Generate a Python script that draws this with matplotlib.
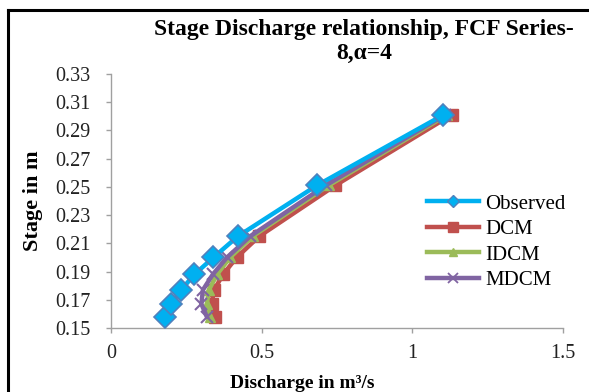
import matplotlib
matplotlib.use("Agg")
import matplotlib.pyplot as plt
from matplotlib.lines import Line2D

stage = [0.158, 0.167, 0.177, 0.188, 0.200, 0.215, 0.251, 0.301]
observed = [0.179, 0.199, 0.233, 0.277, 0.340, 0.421, 0.683, 1.103]
dcm = [0.345, 0.334, 0.342, 0.372, 0.417, 0.492, 0.744, 1.130]
idcm = [0.330, 0.318, 0.325, 0.352, 0.395, 0.470, 0.722, 1.115]
mdcm = [0.318, 0.300, 0.305, 0.338, 0.385, 0.462, 0.712, 1.108]

xticks = [0, 0.5, 1, 1.5]
yticks = [0.15, 0.17, 0.19, 0.21, 0.23, 0.25, 0.27, 0.29, 0.31, 0.33]

serif = ["Liberation Serif", "DejaVu Serif"]
plt.rcParams['font.family'] = serif

fig = plt.figure(figsize=(5.89, 3.92), dpi=100)
ax = fig.add_axes([111/589, 1-328/392, (563-111)/589, (328-74)/392])

ax.plot(observed, stage, color='#00B0F0', lw=3.2, marker='D', ms=11,
        mfc='#00B0F0', mec='#4F81BD', mew=1.2, zorder=4, label='Observed')
ax.plot(dcm, stage, color='#C0504D', lw=3.2, marker='s', ms=8,
        mfc='#C0504D', mec='#C0504D', zorder=2, label='DCM')
ax.plot(idcm, stage, color='#9BBB59', lw=3.2, marker='^', ms=7,
        mfc='#9BBB59', mec='#9BBB59', zorder=3, label='IDCM')
ax.plot(mdcm, stage, color='#8064A2', lw=3.2, marker='x', ms=8, mew=1.5,
        mec='#8064A2', zorder=3, label='MDCM')

ax.set_xlim(0, 1.5)
ax.set_ylim(0.15, 0.33)
ax.set_xticks(xticks)
ax.set_xticklabels(['0', '0.5', '1', '1.5'])
ax.set_yticks(yticks)
ax.set_yticklabels([f"{v:.2f}" for v in yticks])
for s in ['top', 'right']:
    ax.spines[s].set_visible(False)
for s in ['left', 'bottom']:
    ax.spines[s].set_color('#A0A0A0')
    ax.spines[s].set_linewidth(1.0)
ax.tick_params(axis='both', colors='#A0A0A0', labelcolor='#222222',
               labelsize=14.5, length=3.5, width=1.0, direction='out')
ax.tick_params(axis='x', pad=8)
ax.tick_params(axis='y', pad=11)

handles = [
    Line2D([], [], color='#00B0F0', lw=3.2, marker='D', ms=6, mfc='#00B0F0', mec='#4F81BD'),
    Line2D([], [], color='#C0504D', lw=3.2, marker='s', ms=7, mfc='#C0504D', mec='#C0504D'),
    Line2D([], [], color='#9BBB59', lw=3.2, marker='^', ms=6, mfc='#9BBB59', mec='#9BBB59'),
    Line2D([], [], color='#8064A2', lw=3.2, marker='x', ms=7, mew=1.3, mec='#8064A2'),
]
leg = fig.legend(handles, ['Observed', 'DCM', 'IDCM', 'MDCM'],
                 loc='center left', bbox_to_anchor=(427/589, 1-242/392),
                 frameon=False, fontsize=15, handlelength=2.5,
                 handletextpad=0.3, labelspacing=0.28, borderaxespad=0,
                 borderpad=0)

fig.text(364/589, 1-30/392, "Stage Discharge relationship, FCF Series-",
         ha='center', va='center', fontsize=17, fontweight='bold')
fig.text(364/589, 1-53/392, "8,\u03b1=4",
         ha='center', va='center', fontsize=17, fontweight='bold')
fig.text(33/589, 1-201/392, "Stage in m", rotation=90,
         ha='center', va='center', fontsize=16, fontweight='bold')
fig.text(302/589, 1-383/392, "Discharge in m\u00b3/s",
         ha='center', va='center', fontsize=14, fontweight='bold')

# chart frame (top and left borders visible)
fig.add_artist(Line2D([8/589, 8/589], [0, 1-10/392], color='black', lw=2.2,
                      transform=fig.transFigure))
fig.add_artist(Line2D([8/589, 1], [1-10/392, 1-10/392], color='black', lw=2.2,
                      transform=fig.transFigure))

fig.savefig('out.png', dpi=100)
